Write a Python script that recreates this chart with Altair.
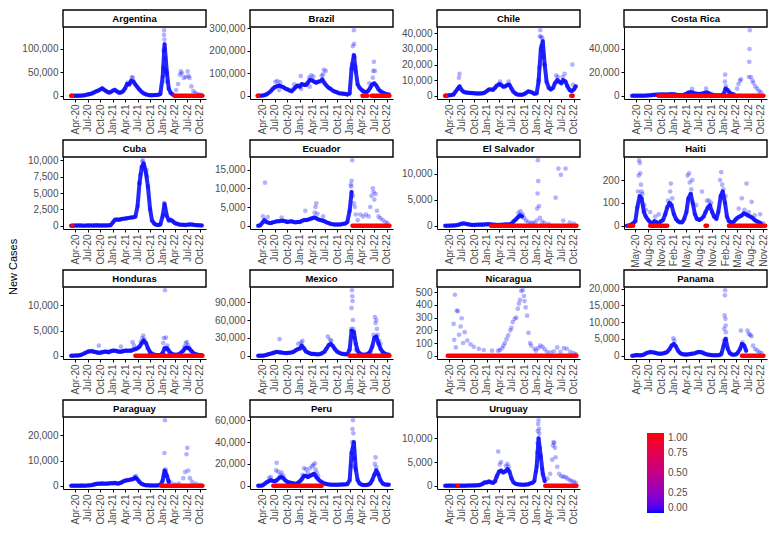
import altair as alt
import pandas as pd

FONT = "Liberation Sans"
W, H = 143, 72
BLUE, RED = "#0000ff", "#ff0000"

COUNTRIES = ["Argentina", "Brazil", "Chile", "Costa Rica", "Cuba", "Ecuador",
             "El Salvador", "Haiti", "Honduras", "Mexico", "Nicaragua", "Panama",
             "Paraguay", "Peru", "Uruguay"]

# semi-monthly sampling dates (1st and 15th), Mar 2020 - Oct 2022
GRID_MONTHS = ([(2020, m) for m in range(3, 13)] + [(2021, m) for m in range(1, 13)]
               + [(2022, m) for m in range(1, 11)])
GRID = [f"{y}-{m:02d}-{d:02d}" for y, m in GRID_MONTHS for d in (1, 15)]

STANDARD_TICKS = [(2020, 4), (2020, 7), (2020, 10), (2021, 1), (2021, 4), (2021, 7),
                  (2021, 10), (2022, 1), (2022, 4), (2022, 7), (2022, 10)]
HAITI_TICKS = [(2020, 5), (2020, 8), (2020, 11), (2021, 2), (2021, 5), (2021, 8),
               (2021, 11), (2022, 2), (2022, 5), (2022, 8), (2022, 11)]
STANDARD_RANGE = [(2020, 1, 1), (2022, 11, 15)]
HAITI_RANGE = [(2020, 2, 10), (2022, 11, 28)]

Y_TICKS = {
    "Argentina": [0, 50000, 100000],
    "Brazil": [0, 100000, 200000, 300000],
    "Chile": [0, 10000, 20000, 30000, 40000],
    "Costa Rica": [0, 20000, 40000],
    "Cuba": [0, 2500, 5000, 7500, 10000],
    "Ecuador": [0, 5000, 10000, 15000],
    "El Salvador": [0, 5000, 10000],
    "Haiti": [0, 100, 200],
    "Honduras": [0, 5000, 10000],
    "Mexico": [0, 30000, 60000, 90000],
    "Nicaragua": [0, 100, 200, 300, 400, 500],
    "Panama": [0, 5000, 10000, 15000, 20000],
    "Paraguay": [0, 10000, 20000],
    "Peru": [0, 20000, 40000, 60000],
    "Uruguay": [0, 5000, 10000],
}

# daily-reported core series, read at the semi-monthly dates
ARGENTINA_CORE = [0, 10, 80, 120, 150, 300, 700, 1500, 2800, 3500, 5000, 7000, 9500, 11000, 13500, 16000, 12000, 9500, 7000, 7500,
                  11000, 12500, 9000, 6500, 7000, 9000, 16000, 25000, 24000, 32000, 30000, 24000, 18000, 13000, 8000, 5000, 3000, 1800, 1200, 1200, 1300, 1600, 2000, 4000,
                  40000, 110000, 50000, 15000, 6000, 3000, None, None, None, None, None, None, None, None, None, None, None, None, None, None]
BRAZIL_CORE = [0, 50, 800, 2500, 6000, 12000, 20000, 30000, 38000, 42000, 45000, 42000, 38000, 32000, 28000, 24000, 20000, 28000, 38000, 45000,
               40000, 52000, 48000, 48000, 58000, 70000, 68000, 62000, 58000, 62000, 65000, 72000, 55000, 45000, 35000, 30000, 22000, 18000, 15000, 11000, 10000, 9000, 8000, 5000,
               10000, 120000, 180000, 110000, 50000, 35000, 25000, 18000, 16000, 20000, 35000, 50000, 55000, 45000, 28000, 20000, 14000, 10000, 7000, 6000]
CHILE_CORE = [0, 50, 300, 450, 800, 2500, 4500, 6000, 3500, 2500, 2000, 1900, 1800, 1700, 1600, 1500, 1400, 1500, 1600, 2000,
              3000, 4000, 4000, 3800, 5000, 6500, 7500, 7000, 5800, 6000, 7000, 7000, 4500, 2500, 1200, 800, 600, 600, 1000, 1800, 2800, 2500, 2000, 1200,
              1500, 9000, 30000, 35000, 20000, 9000, 5000, 4000, 5000, 8000, 10000, 9000, 8000, 10000, 9000, 6000, 3500, 3000, 4000, 6000]
COSTA_RICA_CORE = [0, 20, 30, 20, 10, 20, 50, 150, 300, 500, 700, 800, 900, 1000, 1100, 1100, 1000, 1000, 1200, 1300,
                   1200, 900, 700, 500, 500, 700, 1500, 2500, 3000, 2800, 2000, 1800, 1500, 1700, 2000, 2500, 2800, 2000, 1200, 700, 500, 300, 300, 400,
                   1500, 6000, 4500, 2500, 1500, 1200, None, None, None, None, None, None, None, None, None, None, None, None, None, None]
CUBA_CORE = [0, 10, 30, 50, 30, 20, 10, 20, 40, 50, 30, 50, 60, 50, 40, 40, 50, 50, 60, 80,
             500, 900, 950, 900, 1000, 1050, 1100, 1150, 1200, 1250, 1300, 1400, 3000, 6500, 9000, 9500, 8000, 6000, 2500, 800, 300, 150, 100, 200,
             1500, 3300, 1500, 800, 900, 700, 400, 300, 200, 150, 150, 100, 150, 200, 200, 150, 100, 80, 60, 50]
ECUADOR_CORE = [0, 100, 800, 1500, 1000, 800, 700, 900, 1000, 1200, 1200, 1300, 1300, 1200, 1000, 1100, 1200, 1000, 900, 1000,
                1000, 1300, 1500, 1500, 1600, 1800, 2000, 2200, 2000, 1700, 1500, 1400, 1200, 900, 700, 500, 400, 300, 300, 300, 400, 500, 600, 1000,
                4000, 9000, None, None, None, None, None, None, None, None, None, None, None, None, None, None, None, None, None, None]
EL_SALVADOR_CORE = [0, 0, 10, 20, 50, 80, 150, 250, 400, 450, 350, 300, 200, 150, 150, 180, 200, 220, 200, 250,
                    300, 300, 250, 200, 180, 150, 150, 170, 200, 250, 250, 250, 400, 800, 1200, 1600, 2000, 1800, None, None, None, None, None, None,
                    None, None, None, None, None, None, None, None, None, None, None, None, None, None, None, None, None, None, None, None]
HAITI_CORE = [0, 0, 5, 10, 20, 80, 130, 120, 60, 40, 25, 15, 10, 20, 15, 10, 20, 25, 50, 80,
              100, 90, 50, 30, 20, 15, 15, 30, 60, 120, 140, 100, 50, 30, 25, 30, 40, 60, 80, 90, 60, 40, 30, 60,
              130, 150, 100, 40, 20, 15, 15, 25, 35, 40, 45, 55, 50, 45, 40, 35, 25, 20, 15, 10]
HONDURAS_CORE = [0, 10, 30, 50, 100, 200, 400, 600, 800, 900, 900, 800, 700, 600, 600, 700, 800, 800, 700, 900,
                 1000, 1000, 900, 800, 800, 900, 1000, 1000, 1000, 1000, 1200, 1300, 1500, 1800, 2500, 3000, 2500, 1500, 700, 400, 200, 150, 100, 150,
                 500, 1500, 1500, 1000, 500, 300, 200, 200, 300, 600, 1000, 1500, 1600, 1400, 900, 500, 300, 200, 150, 100]
MEXICO_CORE = [0, 20, 150, 500, 1500, 2500, 3500, 4500, 5500, 6500, 6000, 5500, 4800, 4500, 4500, 5000, 5500, 6500, 9000, 11000,
               12000, 17000, 12000, 7000, 5500, 4000, 3000, 3000, 2500, 2300, 3000, 4500, 7000, 12000, 18000, 20000, 16000, 11000, 7000, 5000, 3500, 3000, 2500, 2500,
               10000, 42000, 40000, 20000, 8000, 4000, 2000, 1500, 2000, 3000, 7000, 15000, 30000, 32000, 20000, 12000, 6000, 3500, 2000, 1500]
NICARAGUA_CORE = []
PANAMA_CORE = [0, 50, 200, 150, 150, 200, 500, 800, 1000, 1100, 1000, 900, 700, 600, 600, 700, 900, 1200, 2000, 3000,
               3500, 2800, 1500, 800, 500, 400, 400, 400, 500, 600, 700, 900, 1100, 1100, 900, 600, 400, 300, 200, 150, 150, 150, 200, 500,
               3000, 5000, 2000, 800, 400, 300, 400, 900, 2000, 3500, 3000, 1500, None, None, None, None, None, None, None, None]
PARAGUAY_CORE = [0, 5, 10, 10, 20, 50, 30, 40, 100, 150, 300, 500, 700, 800, 800, 900, 800, 800, 900, 1000,
                 1000, 1100, 900, 900, 1200, 1600, 2000, 2200, 2300, 2500, 2700, 3200, 2500, 1500, 700, 400, 200, 150, 100, 100, 100, 100, 150, 300,
                 2000, 6000, 4000, 1500, None, None, None, None, None, None, None, None, None, None, None, None, None, None, None, None]
PERU_CORE = [0, 20, 300, 1500, 3000, 4000, 5000, 4500, 4000, 5000, 7000, 8000, 7000, 5000, 3500, 3000, 2500, 2000, 1800, 2500,
             4000, 6000, 9000, 9000, 8000, 9000, 10000, 11000, 8000, 6000, 4000, 3000, 2000, 1500, 1200, 1000, 900, 900, 900, 1000, 1100, 1200, 1300, 1500,
             5000, 30000, 40000, 15000, 5000, 2000, 800, 600, 600, 800, 2000, 5000, 10000, 14000, 10000, 5000, 2000, 1200, 1000, 1000]
URUGUAY_CORE = [0, 20, 30, 20, 10, 10, 10, 10, 10, 20, 20, 30, 40, 50, 60, 80, 100, 200, 400, 700,
                700, 900, 700, 600, 900, 2000, 3000, 3200, 2800, 3000, 3500, 3000, 1500, 700, 400, 300, 250, 200, 200, 250, 300, 500, 600, 1000,
                4000, 10000, 6000, 2500, 1000, None, None, None, None, None, None, None, None, None, None, None, None, None, None, None]

# scattered single-day values (peaks, weekly reports)
ARGENTINA_EXTRA = [("2021-05-20", 40000), ("2021-05-27", 38000), ("2021-04-20", 28000),
                   ("2022-01-05", 60000), ("2022-01-08", 95000), ("2022-01-10", 100000), ("2022-01-11", 130000),
                   ("2022-01-12", 140000), ("2022-01-14", 120000), ("2022-01-18", 100000), ("2022-01-20", 80000),
                   ("2022-01-22", 55000), ("2022-01-25", 45000), ("2022-01-28", 30000),
                   ("2022-04-10", 12000), ("2022-04-24", 25000), ("2022-05-08", 45000), ("2022-05-15", 52000),
                   ("2022-05-22", 48000), ("2022-06-05", 38000), ("2022-06-19", 40000), ("2022-07-03", 52000),
                   ("2022-07-10", 42000), ("2022-07-17", 38000), ("2022-07-31", 20000), ("2022-08-14", 10000),
                   ("2022-08-28", 6000), ("2022-09-11", 3000), ("2022-09-25", 2500), ("2022-10-09", 2000)]
BRAZIL_EXTRA = [("2020-07-05", 62000), ("2020-07-20", 65000), ("2020-08-10", 60000), ("2020-08-02", 25000),
                ("2020-11-20", 50000), ("2021-01-07", 87000), ("2021-01-10", 30000), ("2021-03-10", 80000),
                ("2021-03-14", 40000), ("2021-03-25", 90000), ("2021-04-10", 85000), ("2021-06-10", 88000),
                ("2021-06-20", 95000), ("2021-06-25", 115000), ("2021-07-10", 110000),
                ("2022-01-20", 140000), ("2022-01-25", 220000), ("2022-02-01", 290000), ("2022-02-03", 230000),
                ("2022-02-08", 170000), ("2022-02-12", 130000), ("2022-05-25", 55000), ("2022-06-20", 80000),
                ("2022-06-23", 110000), ("2022-06-28", 150000), ("2022-07-05", 110000)]
CHILE_EXTRA = [("2020-06-10", 11500), ("2020-06-14", 14000), ("2021-04-08", 9000), ("2021-06-10", 9000),
               ("2022-01-15", 10000), ("2022-01-20", 18000), ("2022-01-25", 38000), ("2022-01-28", 42000),
               ("2022-02-02", 38000), ("2022-02-05", 32000), ("2022-02-10", 37000), ("2022-02-14", 28000),
               ("2022-02-18", 25000), ("2022-02-22", 20000), ("2022-05-25", 13000), ("2022-06-05", 12000),
               ("2022-07-10", 12000), ("2022-07-25", 14000), ("2022-09-20", 20000), ("2022-09-25", 7000)]
COSTA_RICA_EXTRA = [("2021-05-15", 5800), ("2021-08-25", 6000), ("2022-01-10", 12000), ("2022-01-12", 18000),
                    ("2022-01-18", 8000), ("2022-04-10", 6000), ("2022-04-20", 10000), ("2022-05-01", 13000),
                    ("2022-05-08", 14000), ("2022-07-05", 16000), ("2022-07-08", 29000), ("2022-07-10", 40000),
                    ("2022-07-12", 56000), ("2022-07-20", 16000), ("2022-07-31", 13000), ("2022-08-07", 11000),
                    ("2022-08-21", 8000), ("2022-09-04", 6000), ("2022-09-18", 4000), ("2022-10-02", 3000)]
CUBA_EXTRA = [("2021-07-15", 6500), ("2021-07-20", 7800), ("2021-08-05", 9800), ("2021-08-10", 10000),
              ("2021-08-20", 9000), ("2021-09-05", 8500), ("2021-09-10", 7500), ("2022-01-12", 3500),
              ("2022-01-18", 2800)]
ECUADOR_EXTRA = [("2020-04-05", 2500), ("2020-04-20", 11500), ("2020-05-10", 2300), ("2020-08-20", 2200),
                 ("2021-02-10", 4000), ("2021-04-20", 3500), ("2021-04-25", 5000), ("2021-05-01", 6000),
                 ("2021-05-10", 3200), ("2021-06-20", 2500), ("2022-01-10", 11000), ("2022-01-12", 10500),
                 ("2022-01-15", 12000), ("2022-01-20", 17500), ("2022-01-25", 8000), ("2022-02-01", 6000),
                 ("2022-02-08", 5000), ("2022-02-15", 3000), ("2022-03-01", 1500), ("2022-03-20", 3000),
                 ("2022-04-10", 2500), ("2022-05-01", 3000), ("2022-05-20", 2500), ("2022-06-01", 5000),
                 ("2022-06-10", 8000), ("2022-06-20", 10000), ("2022-06-25", 9000), ("2022-07-01", 7000),
                 ("2022-07-10", 8500), ("2022-07-20", 4000), ("2022-08-01", 2500), ("2022-08-15", 2000),
                 ("2022-09-01", 1500), ("2022-09-20", 1000), ("2022-10-05", 700)]
EL_SALVADOR_EXTRA = [("2021-08-20", 2500), ("2021-09-05", 2800), ("2021-09-20", 2200), ("2021-10-01", 1500),
                     ("2021-10-15", 1000), ("2021-11-01", 700), ("2021-11-15", 400), ("2021-12-01", 600),
                     ("2021-12-15", 500), ("2022-01-01", 1000), ("2022-01-05", 3300), ("2022-01-08", 6200),
                     ("2022-01-10", 12600), ("2022-01-13", 8600), ("2022-01-18", 3800), ("2022-01-25", 1500),
                     ("2022-02-10", 800), ("2022-03-01", 500), ("2022-04-01", 300), ("2022-05-20", 5400),
                     ("2022-06-10", 11000), ("2022-06-28", 9800), ("2022-07-15", 1000), ("2022-08-01", 11000),
                     ("2022-09-01", 600), ("2022-10-01", 400)]
HAITI_EXTRA = [("2020-05-20", 150), ("2020-05-25", 220), ("2020-05-28", 287), ("2020-06-02", 275),
               ("2020-06-05", 230), ("2020-06-10", 180), ("2020-06-15", 150), ("2020-06-20", 140),
               ("2020-07-05", 90), ("2020-07-15", 70), ("2020-08-15", 60), ("2020-09-20", 40),
               ("2020-10-15", 50), ("2020-12-20", 110), ("2021-01-05", 150), ("2021-01-10", 185),
               ("2021-01-20", 120), ("2021-05-10", 220), ("2021-05-20", 230), ("2021-05-25", 190),
               ("2021-06-05", 160), ("2021-06-12", 200), ("2021-07-10", 90), ("2021-08-20", 150),
               ("2021-09-25", 110), ("2021-10-10", 110), ("2021-10-25", 100), ("2021-12-28", 200),
               ("2022-01-05", 235), ("2022-01-12", 180), ("2022-01-20", 160), ("2022-02-05", 130),
               ("2022-05-10", 75), ("2022-06-01", 120), ("2022-06-20", 70), ("2022-07-05", 185),
               ("2022-07-20", 60), ("2022-08-10", 105), ("2022-09-01", 45), ("2022-10-10", 50),
               ("2022-11-01", 10)]
HONDURAS_EXTRA = [("2020-09-20", 2000), ("2021-03-01", 1800), ("2021-05-25", 2700), ("2021-06-05", 2000),
                  ("2021-07-25", 2800), ("2021-08-05", 3500), ("2021-08-12", 4000), ("2021-08-20", 3200),
                  ("2022-01-05", 2500), ("2022-01-10", 3500), ("2022-01-18", 13000), ("2022-01-25", 3600),
                  ("2022-02-05", 2000), ("2022-06-10", 1800), ("2022-06-20", 2500), ("2022-06-28", 2700),
                  ("2022-07-08", 2000), ("2022-07-15", 1500)]
MEXICO_EXTRA = [("2020-08-05", 28000), ("2020-12-20", 20000), ("2021-01-10", 22000), ("2021-01-20", 25000),
                ("2021-07-25", 32000), ("2021-08-10", 27000), ("2021-08-20", 25000), ("2022-01-12", 45000),
                ("2022-01-15", 80000), ("2022-01-18", 110000), ("2022-01-20", 100000), ("2022-01-22", 92000),
                ("2022-01-25", 60000), ("2022-01-28", 45000), ("2022-02-05", 30000), ("2022-02-15", 10000),
                ("2022-06-25", 35000), ("2022-07-05", 65000), ("2022-07-10", 55000), ("2022-07-15", 60000),
                ("2022-07-20", 45000), ("2022-07-25", 35000), ("2022-08-05", 25000), ("2022-08-15", 20000)]
NICARAGUA_EXTRA = [("2020-05-02", 250), ("2020-05-06", 125), ("2020-05-11", 480), ("2020-05-18", 65),
                   ("2020-05-25", 355), ("2020-06-02", 350), ("2020-06-11", 165), ("2020-06-23", 230),
                   ("2020-06-30", 295), ("2020-07-10", 100), ("2020-07-22", 185), ("2020-08-10", 120),
                   ("2020-09-03", 90), ("2020-09-27", 70), ("2020-11-03", 55), ("2020-12-09", 45),
                   ("2021-02-07", 40), ("2021-03-25", 40), ("2021-04-06", 45), ("2021-04-24", 60),
                   ("2021-05-03", 80), ("2021-05-13", 100), ("2021-05-25", 130), ("2021-06-06", 160),
                   ("2021-06-22", 200), ("2021-06-30", 220), ("2021-07-09", 265), ("2021-07-24", 290),
                   ("2021-08-05", 300), ("2021-08-16", 370), ("2021-08-24", 410), ("2021-09-01", 440),
                   ("2021-09-10", 510), ("2021-09-22", 515), ("2021-09-30", 470), ("2021-10-04", 430),
                   ("2021-10-12", 380), ("2021-10-23", 315), ("2021-11-02", 180), ("2021-11-14", 100),
                   ("2021-11-21", 80), ("2021-12-16", 55), ("2021-12-27", 40), ("2022-01-13", 60),
                   ("2022-01-28", 80), ("2022-02-13", 70), ("2022-03-01", 50), ("2022-03-19", 30),
                   ("2022-04-13", 25), ("2022-05-07", 35), ("2022-06-01", 65), ("2022-06-25", 30),
                   ("2022-07-19", 60), ("2022-08-10", 55), ("2022-09-04", 30), ("2022-09-28", 20),
                   ("2022-10-16", 10)]
PANAMA_EXTRA = [("2020-12-28", 5200), ("2021-01-05", 4500), ("2022-01-03", 4500), ("2022-01-05", 8000),
                ("2022-01-08", 12000), ("2022-01-10", 18000), ("2022-01-12", 19500), ("2022-01-14", 11000),
                ("2022-01-16", 9000), ("2022-01-18", 7000), ("2022-01-20", 5000), ("2022-05-08", 7500),
                ("2022-05-20", 4000), ("2022-06-25", 7500), ("2022-07-05", 6500), ("2022-07-15", 6200),
                ("2022-07-25", 5800), ("2022-08-05", 3000), ("2022-08-20", 2000), ("2022-09-05", 1500),
                ("2022-09-20", 1000), ("2022-10-05", 800)]
PARAGUAY_EXTRA = [("2021-06-10", 3500), ("2021-06-20", 3800), ("2022-01-10", 4000), ("2022-01-14", 13000),
                  ("2022-01-18", 26000), ("2022-01-22", 6500), ("2022-01-25", 5500), ("2022-02-10", 2000),
                  ("2022-03-01", 1200), ("2022-04-01", 500), ("2022-05-01", 800), ("2022-06-01", 3000),
                  ("2022-06-15", 5500), ("2022-06-25", 12500), ("2022-07-01", 15000), ("2022-07-08", 6000),
                  ("2022-07-20", 3000), ("2022-08-05", 1500), ("2022-09-01", 800), ("2022-10-01", 400)]
PERU_EXTRA = [("2020-05-20", 7000), ("2020-06-01", 8000), ("2020-07-10", 14000), ("2020-07-15", 21000),
              ("2020-07-25", 13000), ("2020-08-10", 10000), ("2020-08-20", 12000), ("2020-09-01", 9000),
              ("2021-01-20", 10000), ("2021-02-01", 16000), ("2021-02-15", 15000), ("2021-03-01", 12000),
              ("2021-03-15", 16000), ("2021-04-01", 18000), ("2021-04-10", 19000), ("2021-04-20", 20500),
              ("2021-04-25", 15000), ("2021-05-05", 12000), ("2021-05-15", 9000), ("2022-01-15", 18000),
              ("2022-01-20", 40000), ("2022-01-22", 52000), ("2022-01-25", 60000), ("2022-01-28", 48000),
              ("2022-01-30", 35000), ("2022-02-03", 25000), ("2022-02-08", 17000), ("2022-07-05", 20000),
              ("2022-07-10", 26000), ("2022-07-15", 17000), ("2022-07-25", 12000)]
URUGUAY_EXTRA = [("2021-03-25", 7200), ("2021-04-05", 4500), ("2021-04-15", 5000), ("2021-05-20", 4200),
                 ("2021-06-01", 4600), ("2021-06-10", 4000), ("2021-12-28", 3000), ("2022-01-05", 7000),
                 ("2022-01-08", 9000), ("2022-01-10", 11500), ("2022-01-12", 13000), ("2022-01-15", 13800),
                 ("2022-01-18", 12000), ("2022-01-20", 11000), ("2022-01-25", 8000), ("2022-01-28", 6500),
                 ("2022-02-10", 3500), ("2022-03-20", 1500), ("2022-04-10", 2500), ("2022-04-25", 5500),
                 ("2022-05-01", 8500), ("2022-05-05", 9200), ("2022-05-10", 9000), ("2022-05-15", 8000),
                 ("2022-05-20", 6000), ("2022-06-01", 4000), ("2022-06-15", 2500), ("2022-07-01", 2000),
                 ("2022-07-15", 1900), ("2022-08-01", 1800), ("2022-08-15", 1500), ("2022-09-01", 1200),
                 ("2022-09-15", 1000), ("2022-10-01", 800), ("2022-10-15", 600)]

# stretches of zero-report days (drawn red at y = 0)
ARGENTINA_ZERO = [("2020-03-03", "2020-03-08"), ("2022-03-28", "2022-10-20")]
BRAZIL_ZERO = [("2020-02-26", "2020-03-01"), ("2022-04-05", "2022-05-10"), ("2022-06-10", "2022-10-20")]
CHILE_ZERO = [("2020-03-03", "2020-03-08"), ("2022-09-12", "2022-09-22")]
COSTA_RICA_ZERO = [("2020-09-10", "2022-10-20")]
CUBA_ZERO = [("2020-03-10", "2020-03-10")]
ECUADOR_ZERO = [("2022-01-22", "2022-10-20")]
EL_SALVADOR_ZERO = [("2021-02-01", "2022-10-20")]
HAITI_ZERO = [("2020-03-15", "2020-04-15"), ("2020-08-15", "2020-12-15"), ("2021-09-15", "2021-09-25"),
              ("2022-03-01", "2022-11-15")]
HONDURAS_ZERO = [("2021-06-15", "2022-10-20")]
MEXICO_ZERO = [("2022-01-01", "2022-10-20")]
NICARAGUA_ZERO = [("2020-03-20", "2022-10-20")]
PANAMA_ZERO = [("2022-05-15", "2022-10-20")]
PARAGUAY_ZERO = [("2021-12-20", "2022-10-20")]
PERU_ZERO = [("2020-06-20", "2021-06-10")]
URUGUAY_ZERO = [("2020-06-01", "2020-06-01"), ("2022-03-05", "2022-10-20")]

CORE = dict(zip(COUNTRIES, [ARGENTINA_CORE, BRAZIL_CORE, CHILE_CORE, COSTA_RICA_CORE, CUBA_CORE,
                            ECUADOR_CORE, EL_SALVADOR_CORE, HAITI_CORE, HONDURAS_CORE, MEXICO_CORE,
                            NICARAGUA_CORE, PANAMA_CORE, PARAGUAY_CORE, PERU_CORE, URUGUAY_CORE]))
EXTRA = dict(zip(COUNTRIES, [ARGENTINA_EXTRA, BRAZIL_EXTRA, CHILE_EXTRA, COSTA_RICA_EXTRA, CUBA_EXTRA,
                             ECUADOR_EXTRA, EL_SALVADOR_EXTRA, HAITI_EXTRA, HONDURAS_EXTRA, MEXICO_EXTRA,
                             NICARAGUA_EXTRA, PANAMA_EXTRA, PARAGUAY_EXTRA, PERU_EXTRA, URUGUAY_EXTRA]))
ZERO = dict(zip(COUNTRIES, [ARGENTINA_ZERO, BRAZIL_ZERO, CHILE_ZERO, COSTA_RICA_ZERO, CUBA_ZERO,
                            ECUADOR_ZERO, EL_SALVADOR_ZERO, HAITI_ZERO, HONDURAS_ZERO, MEXICO_ZERO,
                            NICARAGUA_ZERO, PANAMA_ZERO, PARAGUAY_ZERO, PERU_ZERO, URUGUAY_ZERO]))

COLOR_SCALE = alt.Scale(domain=[0, 1], range=[BLUE, RED], interpolate="lab")
LEGEND = alt.Legend(type="gradient", orient="none", legendX=584, legendY=406, title=None,
                    direction="vertical", values=[0, 0.25, 0.5, 0.75, 1], format=".2f",
                    gradientLength=80, gradientThickness=17, gradientStrokeWidth=0,
                    labelFontSize=10, labelColor="#4d4d4d", labelFont=FONT, labelOffset=4,
                    labelBaseline="middle")


def to_dt(parts):
    return alt.DateTime(year=parts[0], month=parts[1], date=parts[2] if len(parts) > 2 else 1)


def make_panel(name: str) -> alt.LayerChart:
    """One facet: strip on top, core line, scattered days and zero stretches."""
    is_haiti = name == "Haiti"
    ticks = [to_dt(t) for t in (HAITI_TICKS if is_haiti else STANDARD_TICKS)]
    x_range = [to_dt(t) for t in (HAITI_RANGE if is_haiti else STANDARD_RANGE)]

    core = pd.DataFrame({"date": GRID[:len(CORE[name])], "cases": CORE[name]}).dropna()
    core["flag"] = 0
    extra = pd.DataFrame(EXTRA[name], columns=["date", "cases"])
    extra["flag"] = 0
    zeros = pd.DataFrame(ZERO[name], columns=["date", "end"])
    zeros["cases"] = 0
    zeros["flag"] = 1

    top = max(list(core["cases"]) + list(extra["cases"]))
    x = alt.X("date:T", title=None,
              scale=alt.Scale(domain=x_range, nice=False),
              axis=alt.Axis(values=ticks, format="%b-%y", labelAngle=270, labelAlign="right",
                            labelBaseline="middle", labelOverlap=False, labelFlush=False,
                            labelPadding=2))
    y = alt.Y("cases:Q", title=None,
              scale=alt.Scale(domain=[-0.05 * top, 1.05 * top], nice=False, zero=False),
              axis=alt.Axis(values=Y_TICKS[name], format=",d", labelOverlap=False,
                            labelPadding=2))
    # the points carry the colour scale (and the shared colour bar); only their
    # fill is made transparent so the colour bar stays opaque
    color = alt.Color("flag:Q", scale=COLOR_SCALE, legend=LEGEND)

    layers = []
    if len(core):
        layers.append(alt.Chart(core).mark_line(color=BLUE, strokeWidth=4, strokeCap="round",
                                                strokeJoin="round", opacity=0.85)
                      .encode(x=x, y=y))
        layers.append(alt.Chart(core).mark_circle(size=22, fillOpacity=0.3)
                      .encode(x=x, y=y, color=color))
    layers.append(alt.Chart(extra).mark_circle(size=22, fillOpacity=0.3)
                  .encode(x=x, y=y, color=color))
    layers.append(alt.Chart(zeros).mark_rule(color=RED, strokeWidth=4.5, strokeCap="round")
                  .encode(x=x, x2="end:T", y=y))

    strip_df = pd.DataFrame({"name": [name]})
    strip_box = alt.Chart(strip_df).mark_rect(fill="white", stroke="black", strokeWidth=1.4).encode(
        x=alt.value(0), x2=alt.value(W), y=alt.value(-17), y2=alt.value(0))
    strip_text = alt.Chart(strip_df).mark_text(font=FONT, fontSize=9.5, fontWeight="bold",
                                               color="black").encode(
        x=alt.value(W / 2), y=alt.value(-8.5), text="name:N")

    return alt.layer(*layers, strip_box, strip_text).properties(width=W, height=H)


panels = [make_panel(c) for c in COUNTRIES]

chart = alt.concat(
    *panels, columns=4, spacing={"row": 58, "column": 44}, bounds="flush", padding=0,
    title=alt.TitleParams("New Cases", orient="left", anchor="middle", font=FONT,
                          fontSize=11, fontWeight="normal", color="black", offset=2)
).resolve_scale(
    x="independent", y="independent"
).configure_view(
    stroke="transparent"
).configure_axis(
    grid=False, domainColor="black", domainWidth=1, tickColor="black", tickSize=3,
    labelFont=FONT, labelFontSize=10, labelColor="#4d4d4d"
)

chart.save("out.html", embed_options={"renderer": "svg", "actions": False})
